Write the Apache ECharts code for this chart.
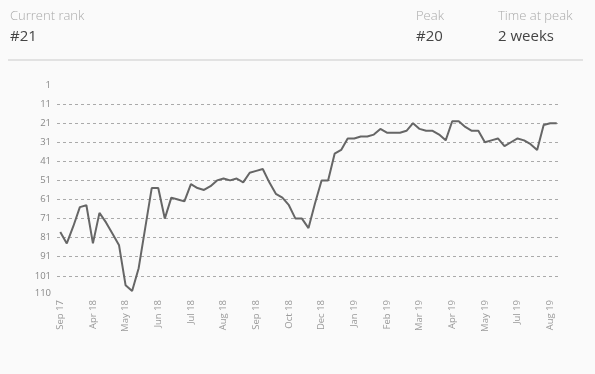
<!DOCTYPE html>
<html>
<head>
<meta charset="utf-8">
<script src="https://cdn.jsdelivr.net/npm/echarts@6/dist/echarts.min.js"></script>
<style>
html,body{margin:0;padding:0;background:#fafafa;}
#chart{width:595px;height:374px;}
</style>
</head>
<body>
<div id="chart"></div>
<script>
// Weekly chart ranks (one value per charted week)
const ranks = [78,84,75,65,64,84,68,73,79,85,106,109,97,76,55,55,71,60,61,62,
  53,55,56,54,51,50,51,50,52,47,46,45,52,58,60,64,71,71,76,63,
  51,51,37,35,29,29,28,28,27,24,26,26,26,25,21,24,25,25,27,30,
  20,20,23,25,25,31,30,29,33,31,29,30,32,35,22,21,21];
// Labels shown every fifth week
const tickLabels = ["Sep 17","Apr 18","May 18","Jun 18","Jul 18","Aug 18","Sep 18","Oct 18",
  "Dec 18","Jan 19","Feb 19","Mar 19","Apr 19","May 19","Jul 19","Aug 19"];
const rankTicks = [1,11,21,31,41,51,61,71,81,91,101,110];
const header = {currentLabel:"Current rank", current:"#21", peakLabel:"Peak", peak:"#20", timeLabel:"Time at peak", time:"2 weeks"};

const categories = ranks.map((_, i) => String(i));
const values = ranks.map(r => r - 1);

const chart = echarts.init(document.getElementById('chart'), null, {renderer:'canvas'});
const font = '"Open Sans", "Noto Sans", sans-serif';
chart.setOption({
  backgroundColor: '#fafafa',
  animation: false,
  textStyle: {fontFamily: font},
  graphic: [
    {type:'text', left:10, top:10, style:{text:header.currentLabel, fill:'#aaa', font:'300 13px ' + font}},
    {type:'text', left:10, top:29, style:{text:header.current, fill:'#444', font:'15px ' + font}},
    {type:'text', left:416, top:10, style:{text:header.peakLabel, fill:'#aaa', font:'300 13px ' + font}},
    {type:'text', left:416, top:29, style:{text:header.peak, fill:'#444', font:'15px ' + font}},
    {type:'text', left:498, top:10, style:{text:header.timeLabel, fill:'#aaa', font:'300 13px ' + font}},
    {type:'text', left:498, top:29, style:{text:header.time, fill:'#444', font:'15px ' + font}},
    {type:'rect', left:8, top:59, shape:{width:575, height:2}, style:{fill:'#e2e2e2'}}
  ],
  grid: {left:57, right:35, top:85, bottom:81, containLabel:false},
  xAxis: {
    type:'category',
    data: categories,
    boundaryGap: true,
    axisLine:{show:false},
    axisTick:{show:false},
    splitLine:{show:false},
    axisLabel:{
      interval:4,
      rotate:90,
      margin:7,
      fontSize:9.5,
      color:'#999',
      fontFamily: font,
      formatter:(v, idx) => tickLabels[idx / 5] || ''
    }
  },
  yAxis: {
    type:'value',
    inverse:true,
    min:0,
    max:109,
    interval:10,
    axisLine:{show:false},
    axisTick:{show:false},
    axisLabel:{
      margin:6,
      fontSize:9.5,
      color:'#888',
      fontFamily: font,
      formatter:(v) => {
        const r = v + 1;
        return rankTicks.indexOf(r) >= 0 ? String(r) : '';
      }
    },
    splitLine:{
      show:true,
      showMinLine:false,
      showMaxLine:false,
      lineStyle:{color:'#aaa', type:[3,3], width:1}
    }
  },
  series: [{
    type:'line',
    data: values,
    symbol:'none',
    lineStyle:{color:'#666', width:2},
    silent:true
  }]
});
</script>
</body>
</html>
